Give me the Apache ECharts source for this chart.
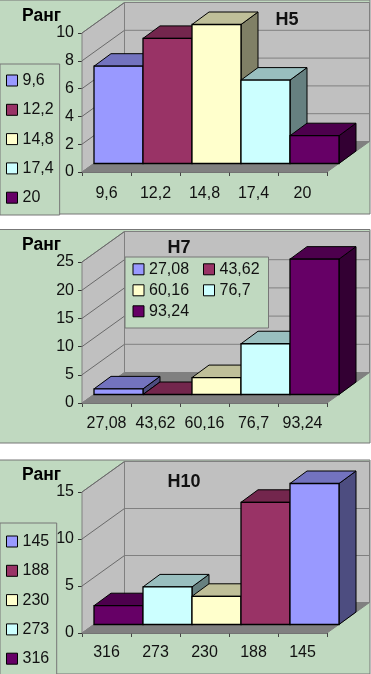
<!DOCTYPE html>
<html><head><meta charset="utf-8">
<style>html,body{margin:0;padding:0;background:#fff}#c{width:371px;height:674px}</style>
<script src="https://cdn.jsdelivr.net/npm/echarts@6/dist/echarts.min.js"></script>
</head><body><div id="c"></div>
<script>
// ---- data ----
const h5Categories  = ['9,6','12,2','14,8','17,4','20'];
const h5Values      = [7,9,10,6,2];
const h5Ticks       = [0,2,4,6,8,10];
const h7Categories  = ['27,08','43,62','60,16','76,7','93,24'];
const h7Values      = [1,0,3,9,24];
const h7Ticks       = [0,5,10,15,20,25];
const h10Categories = ['316','273','230','188','145'];
const h10Values     = [2,4,3,13,15];
const h10Ticks      = [0,5,10,15];
const h10LegendOrder = ['145','188','230','273','316'];
const axisTitle = 'Ранг';

// ---- style ----
const faces = {
  blue:   {front:'#9999FF', top:'#7373BF', side:'#4D4D80'},
  red:    {front:'#993366', top:'#73264D', side:'#4D1A33'},
  yellow: {front:'#FFFFCC', top:'#BFBF99', side:'#808066'},
  cyan:   {front:'#CCFFFF', top:'#99BFBF', side:'#668080'},
  purple: {front:'#660066', top:'#4D004D', side:'#330033'}
};
const h5Faces  = ['blue','red','yellow','cyan','purple'];
const h7Faces  = ['blue','red','yellow','cyan','purple'];
const h10Faces = ['purple','cyan','yellow','red','blue'];
const WALL_D = [42.5,-30.5], BAR_OFF = [12,-8.5], BAR_D = [17,-12.5];
const FONT = '"Liberation Sans", Arial, sans-serif';
const FS = 16;

const panels = [
 {title:'H5', cats:h5Categories, vals:h5Values, ticks:h5Ticks, fc:h5Faces, legendData:h5Categories,
  gridTop:33, gridH:139, box:[0,0,371,214], titleC:[287,11], nameGap:7, labelGap:14,
  legend:{left:0, top:64, height:170, orient:'vertical', itemGap:13.3, padding:[8.5,6,9.3,6]}},
 {title:'H7', cats:h7Categories, vals:h7Values, ticks:h7Ticks, fc:h7Faces, legendData:h7Categories,
  gridTop:262, gridH:141, box:[0,229.5,371,213.5], titleC:[179,239], nameGap:7, labelGap:13,
  legend:{left:125, top:257, orient:'horizontal', width:137, itemGap:5, padding:[4.3,0,8.7,7.5], textStyle:{width:49,lineHeight:12}}},
 {title:'H10', cats:h10Categories, vals:h10Values, ticks:h10Ticks, fc:h10Faces, legendData:h10LegendOrder,
  gridTop:492, gridH:141, box:[0,460,371,214], titleC:[184,473], nameGap:8, labelGap:12,
  legend:{left:0, top:523, height:170, orient:'vertical', itemGap:13.3, padding:[10.5,7.5,8.3,6]}}
];

const pg = (pts,fill,stroke,lw)=>({type:'polygon',shape:{points:pts},style:{fill:fill,stroke:stroke||null,lineWidth:lw||1},silent:true});
const ln = (a,b,c)=>({type:'line',shape:{x1:a[0],y1:a[1],x2:b[0],y2:b[1]},style:{stroke:c,lineWidth:1},silent:true});

function wallItem(n, vMax){
  return function(params, api){
    const w = api.size([1,0])[0];
    const p0 = api.coord([0,0]), pM = api.coord([0,vMax]);
    const x0 = p0[0]-w/2, x1 = x0+n*w, y0 = p0[1], yM = pM[1];
    const dx = WALL_D[0], dy = WALL_D[1];
    return {type:'group',children:[
      pg([[x0+dx,y0+dy],[x1+dx,y0+dy],[x1+dx,yM+dy],[x0+dx,yM+dy]],'#C0C0C0','#808080'),
      pg([[x0,y0],[x0+dx,y0+dy],[x0+dx,yM+dy],[x0,yM]],'#C0C0C0','#808080'),
      pg([[x0,y0],[x1,y0],[x1+dx,y0+dy],[x0+dx,y0+dy]],'#808080','#808080')
    ]};
  };
}
function gridItem(n){
  return function(params, api){
    const w = api.size([1,0])[0];
    const p = api.coord([0,api.value(1)]);
    const x0 = p[0]-w/2, x1 = x0+n*w, y = p[1];
    const dx = WALL_D[0], dy = WALL_D[1];
    return {type:'group',children:[
      ln([x0,y],[x0+dx,y+dy],'#6a6a6a'),
      ln([x0+dx,y+dy],[x1+dx,y+dy],'#808080')
    ]};
  };
}
function barItem(face){
  return function(params, api){
    const w = api.size([1,0])[0];
    const c = api.coord([api.value(0),api.value(1)]);
    const b = api.coord([api.value(0),0]);
    const xl = c[0]-w/2+BAR_OFF[0], xr = xl+w;
    const yt = c[1]+BAR_OFF[1], yb = b[1]+BAR_OFF[1];
    const dx = BAR_D[0], dy = BAR_D[1];
    const k = '#000';
    return {type:'group',children:[
      pg([[xr,yb],[xr+dx,yb+dy],[xr+dx,yt+dy],[xr,yt]],face.side,k),
      pg([[xl,yt],[xr,yt],[xr+dx,yt+dy],[xl+dx,yt+dy]],face.top,k),
      pg([[xl,yb],[xr,yb],[xr,yt],[xl,yt]],face.front,k,1.3)
    ]};
  };
}

const grid=[],xAxis=[],yAxis=[],series=[],legend=[],title=[],graphic=[];
panels.forEach((p,i)=>{
  const vMax = p.ticks[p.ticks.length-1];
  graphic.push({type:'rect',z:-100,silent:true,shape:{x:p.box[0]-1,y:p.box[1],width:p.box[2],height:p.box[3]},
    style:{fill:'#C0D9C0',stroke:'#777',lineWidth:1}});
  grid.push({left:82,width:245,top:p.gridTop,height:p.gridH});
  xAxis.push({type:'category',gridIndex:i,data:p.cats,
    axisLine:{show:true,lineStyle:{color:'#666',width:1}},
    axisTick:{show:true,length:4,lineStyle:{color:'#444'}},
    axisLabel:{color:'#111',fontFamily:FONT,fontSize:FS,margin:p.labelGap,interval:0},splitLine:{show:false}});
  yAxis.push({type:'value',gridIndex:i,min:0,max:vMax,interval:p.ticks[1]-p.ticks[0],
    name:axisTitle,nameLocation:'end',nameGap:p.nameGap,
    nameTextStyle:{color:'#000',fontFamily:FONT,fontSize:17.5,fontWeight:'bold',align:'right',padding:[0,21,0,0]},
    axisLine:{show:true,lineStyle:{color:'#333',width:1}},
    axisTick:{show:true,length:4,lineStyle:{color:'#333'}},
    axisLabel:{color:'#111',fontFamily:FONT,fontSize:FS,margin:8},splitLine:{show:false}});
  series.push({type:'custom',name:'walls'+i,xAxisIndex:i,yAxisIndex:i,z:1,silent:true,
    renderItem:wallItem(p.cats.length,vMax),data:[[0,vMax]],encode:{x:0,y:1}});
  series.push({type:'custom',name:'grid'+i,xAxisIndex:i,yAxisIndex:i,z:2,silent:true,
    renderItem:gridItem(p.cats.length),data:p.ticks.slice(1).map(t=>[0,t]),encode:{x:0,y:1}});
  p.cats.forEach((c,k)=>{
    const f = faces[p.fc[k]];
    series.push({type:'custom',name:c,xAxisIndex:i,yAxisIndex:i,z:3,silent:true,
      itemStyle:{color:f.front},renderItem:barItem(f),data:[[k,p.vals[k]]],encode:{x:0,y:1}});
  });
  const lt = p.legend.textStyle||{};
  legend.push(Object.assign({},p.legend,{data:p.legendData,selectedMode:false,icon:'rect',
    itemWidth:11,itemHeight:11,z:10,
    backgroundColor:'#C0D9C0',borderColor:'#777',borderWidth:1,
    itemStyle:{borderColor:'#000',borderWidth:1},
    textStyle:Object.assign({color:'#111',fontFamily:FONT,fontSize:FS},lt)}));
  title.push({text:p.title,left:p.titleC[0],top:p.titleC[1],textAlign:'center',padding:0,z:9,
    textStyle:{color:'#111',fontFamily:FONT,fontSize:18,fontWeight:'bold'}});
});

const chart = echarts.init(document.getElementById('c'),null,{renderer:'canvas'});
chart.setOption({animation:false,backgroundColor:'#fff',tooltip:{show:false},grid,xAxis,yAxis,series,legend,title,graphic});
</script></body></html>
